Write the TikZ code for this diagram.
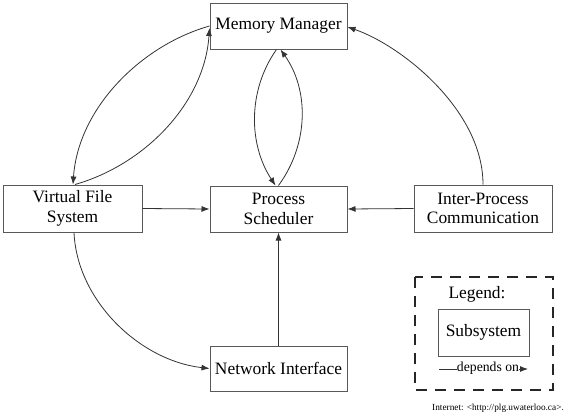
\documentclass[tikz,border=0pt]{standalone}
\usepackage{fontspec}
\setmainfont{Liberation Serif}
\usetikzlibrary{arrows.meta}
\begin{document}
\begin{tikzpicture}[x=1pt,y=-1pt,
  sub/.style={draw=black!65, line width=1pt, fill=white, inner sep=0pt, align=center,
    font=\fontsize{17.4}{19.5}\selectfont, text=black},
  dep/.style={draw=black!80, line width=0.8pt, -{Latex[length=8pt,width=6pt]}},
  lbl/.style={inner sep=0pt, text=black}]
\useasboundingbox (0,0) rectangle (565,416);
\fill[white] (0,0) rectangle (565,416);
% subsystems
\node[sub, minimum width=137pt, minimum height=46pt] (mm)  at (278.5,26)    {Memory Manager};
\node[sub, minimum width=139pt, minimum height=47pt] (vfs) at (72.5,208.5)  {Virtual File\\System};
\node[sub, minimum width=137pt, minimum height=46pt] (ps)  at (278.5,209)   {Process\\Scheduler};
\node[sub, minimum width=138pt, minimum height=47pt] (ipc) at (483,208.5)   {Inter-Process\\Communication};
\node[sub, minimum width=137pt, minimum height=45pt] (ni)  at (278.5,368.5) {Network Interface};
% dependencies
\draw[dep] (mm.west) .. controls +(-70,20) and +(5,-75) .. ([xshift=0.5pt]vfs.north);
\draw[dep] ([xshift=2.5pt]vfs.north) .. controls +(70,-20) and +(-5,75) .. ([yshift=-2pt]mm.west);
\draw[dep] ([xshift=-2pt]mm.south) .. controls +(-29,41) and +(-27,-41) .. ([xshift=-3pt]ps.north);
\draw[dep] (ps.north) .. controls +(30,-41) and +(29,41) .. ([xshift=2pt]mm.south);
\draw[dep] (ipc.north) .. controls +(0,-75) and +(53,18) .. ([yshift=-1pt]mm.east);
\draw[dep] (vfs.east) -- (ps.west);
\draw[dep] (ipc.west) -- (ps.east);
\draw[dep] (ni.north) -- (ps.south);
\draw[dep] ([xshift=1.5pt]vfs.south) .. controls +(3,68) and +(-70,-8) .. (ni.west);
% legend
\draw[black!85, line width=2.2pt, dash pattern=on 11pt off 8pt] (415,277) rectangle (553,390);
\node[lbl, anchor=base, font=\fontsize{17.4}{19.5}\selectfont] (lg) at (477,298) {Legend:};
\node[sub, minimum width=91pt, minimum height=47pt] (ls) at (483.5,332.5) {Subsystem};
\coordinate (la) at (439,369);
\coordinate (lb) at (528,369);
\draw[dep] (la) -- (lb);
\node[lbl, fill=white, inner xsep=0pt, inner ysep=0.5pt, font=\fontsize{13.7}{15}\selectfont] (ld) at (488,368) {depends on};
\node[lbl, anchor=base east, font=\fontsize{9.3}{11}\selectfont] (src) at (564,410) {Internet: <http://plg.uwaterloo.ca>.};
\end{tikzpicture}
\end{document}
